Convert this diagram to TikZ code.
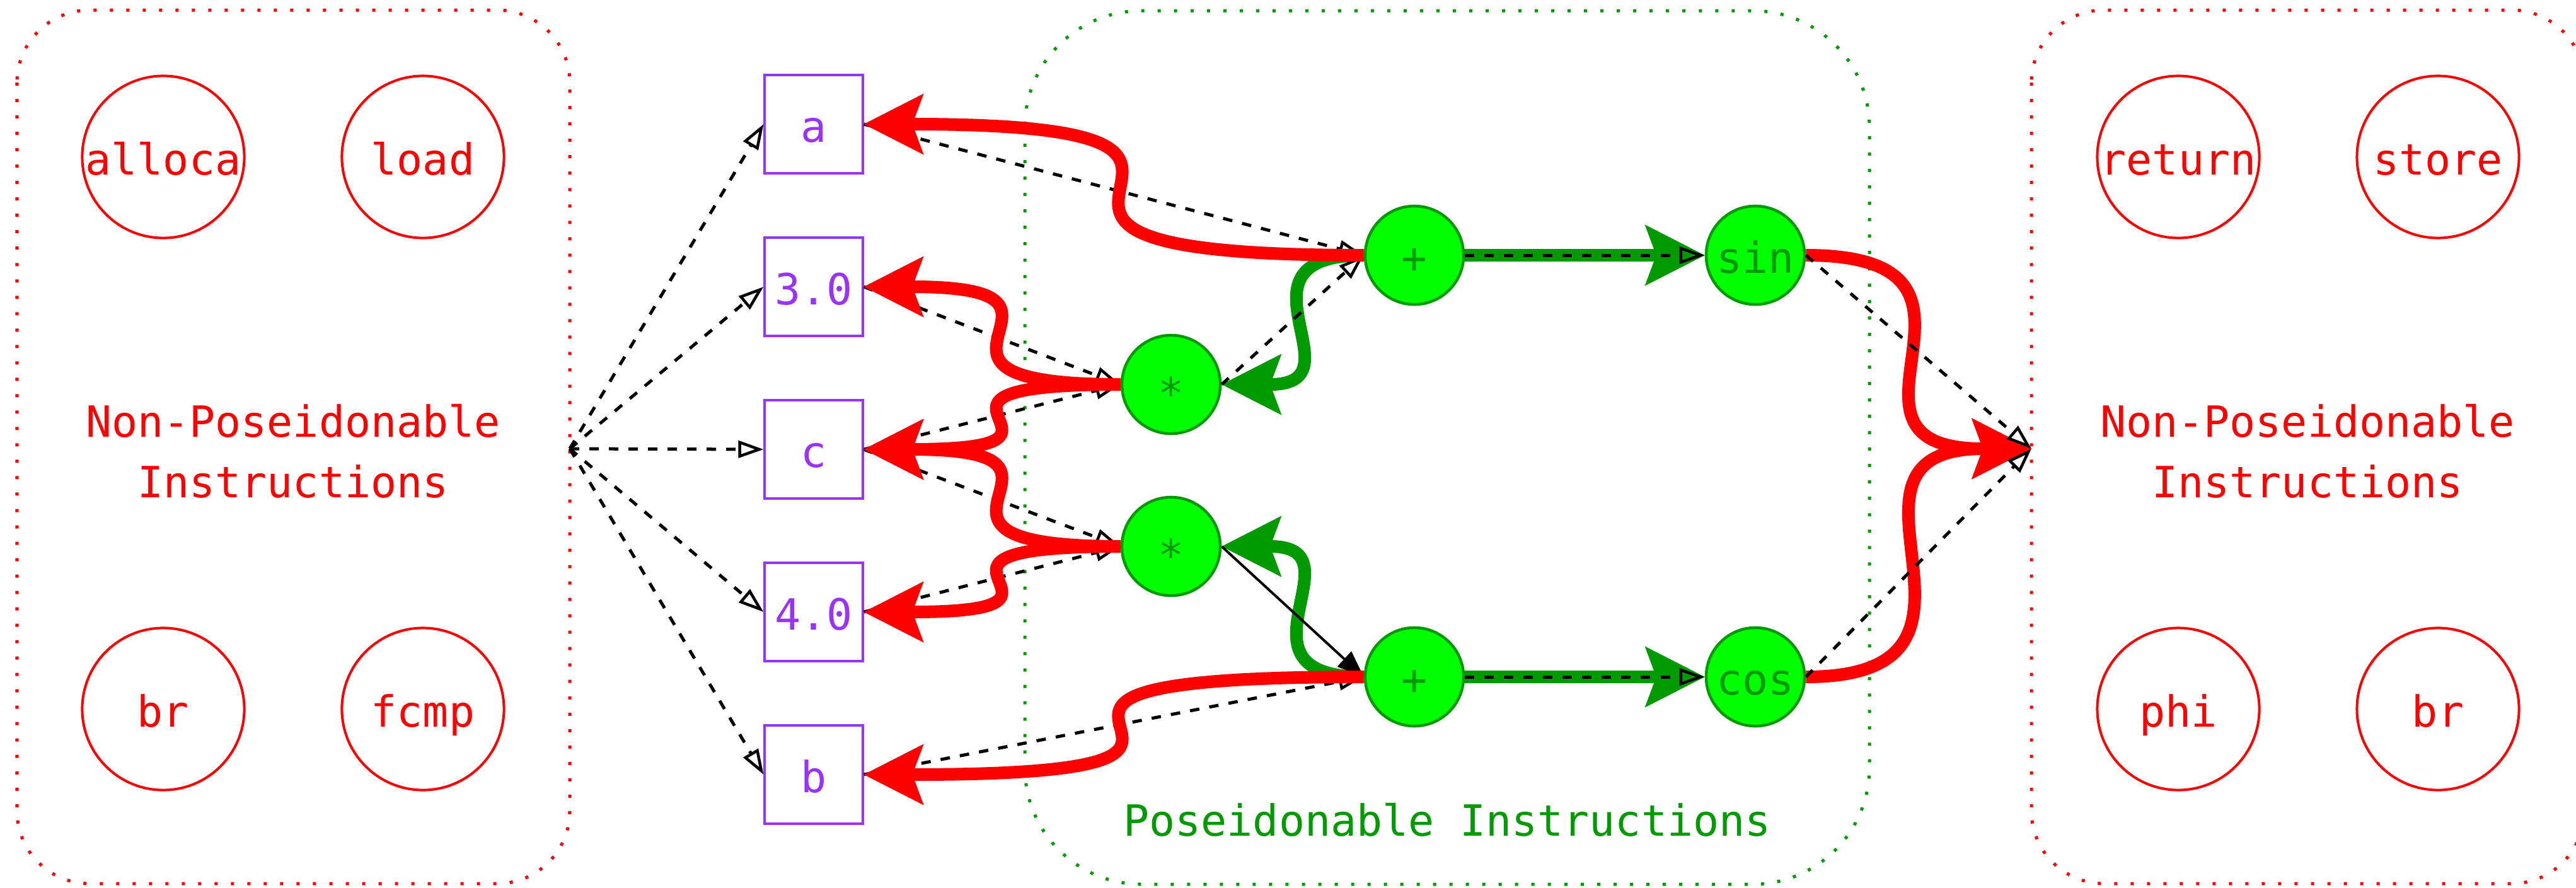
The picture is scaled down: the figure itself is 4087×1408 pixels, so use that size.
\documentclass[tikz,border=0pt]{standalone}
\usepackage{fontspec}
\usepackage{tikz}
\usetikzlibrary{arrows.meta}
\newfontfamily\irmono{DejaVu Sans Mono}
\definecolor{poseigreen}{RGB}{0,153,0}
\definecolor{poseifill}{RGB}{0,255,0}
\definecolor{valpurple}{RGB}{153,51,255}
\newcommand{\irtext}{\irmono\fontsize{19.4pt}{27.3pt}\selectfont}
\newcommand{\irmul}{\raisebox{-0.1cm}{*}}
\tikzset{
  cluster/.style={line width=0.05cm, dash pattern=on 0.05cm off 0.21cm},
  inode/.style={circle, draw=red, line width=0.04cm, minimum size=2.57cm, inner sep=0pt,
      text=red, font=\irtext, text height=0.56cm, text depth=0pt},
  vbox/.style={rectangle, draw=valpurple, line width=0.04cm, minimum size=1.55cm, inner sep=0pt,
      text=valpurple, font=\irtext, text height=0.56cm, text depth=0pt},
  pnode/.style={circle, draw=poseigreen, fill=poseifill, line width=0.045cm, minimum size=1.56cm,
      inner sep=0pt, text=poseigreen, font=\irtext, text height=0.56cm, text depth=0pt},
  clab/.style={font=\irtext, align=center, inner sep=0pt},
  dep/.style={black, line width=0.05cm, dash pattern=on 0.15cm off 0.16cm,
      -{Triangle[open, length=0.4cm, width=0.27cm, line width'=0.045cm]}},
  flow/.style={black, line width=0.04cm, -{Triangle[length=0.42cm, width=0.33cm, line width'=0.01cm]}},
  rarr/.style={red, line width=0.2cm,
      -{Stealth[length=0.95cm, width=0.97cm, inset=0.18cm, line width'=0.01cm]}},
  garr/.style={poseigreen, line width=0.2cm,
      -{Stealth[length=0.95cm, width=0.97cm, inset=0.18cm, line width'=0.01cm]}},
  % horizontal S bend, vertical in the middle
  scurve/.style={to path={.. controls (\tikztostart -| \tikztotarget) and (\tikztotarget -| \tikztostart) .. (\tikztotarget) \tikztonodes}},
}

\begin{document}
\begin{tikzpicture}[x=0.01cm, y=-0.01cm]
  \useasboundingbox (0,0) rectangle (4087,1408);

  % clusters
  \draw[cluster, red, rounded corners=1.15cm] (27,16) rectangle (904,1402);
  \draw[cluster, poseigreen, rounded corners=1.85cm] (1626,17) rectangle (2966,1403);
  \draw[cluster, red, rounded corners=1.15cm] (3223,16) rectangle (4100,1402);

  % instructions outside the region
  \node[inode] (alloca) at (259,249) {alloca};
  \node[inode] (load) at (671,249) {load};
  \node[inode] (lbr) at (259,1125) {br};
  \node[inode] (fcmp) at (671,1125) {fcmp};
  \node[clab, text=red] (lcap) at (465,716) {Non-Poseidonable\\Instructions};
  \coordinate (src) at (904,712);

  \node[inode] (ret) at (3456,249) {return};
  \node[inode] (store) at (3868,249) {store};
  \node[inode] (phi) at (3456,1125) {phi};
  \node[inode] (rbr) at (3868,1125) {br};
  \node[clab, text=red] (rcap) at (3661,716) {Non-Poseidonable\\Instructions};
  \coordinate (sink) at (3223,712);

  % operands
  \node[vbox] (va) at (1291,197) {a};
  \node[vbox] (v30) at (1291,455) {3.0};
  \node[vbox] (vc) at (1291,713) {c};
  \node[vbox] (v40) at (1291,971) {4.0};
  \node[vbox] (vb) at (1291,1229) {b};

  % poseidonable ops
  \node[pnode] (mul1) at (1858,610) {\irmul};
  \node[pnode] (mul2) at (1858,867) {\irmul};
  \node[pnode] (plus1) at (2244,405) {+};
  \node[pnode] (plus2) at (2244,1074) {+};
  \node[pnode] (sin) at (2785,405) {sin};
  \node[pnode] (cos) at (2785,1074) {cos};
  \node[clab, text=poseigreen, anchor=base] (pcap) at (2296,1326) {Poseidonable Instructions};

  % green flow
  \draw[garr] (plus1.east) -- (sin.west);
  \draw[garr] (plus2.east) -- (cos.west);
  \draw[garr] (plus1.west) to[scurve] (mul1.east);
  \draw[garr] (plus2.west) to[scurve] (mul2.east);

  % data dependences
  \draw[dep] (src) -- (va.west);
  \draw[dep] (src) -- (v30.west);
  \draw[dep] (src) -- (vc.west);
  \draw[dep] (src) -- (v40.west);
  \draw[dep] (src) -- (vb.west);
  \draw[dep] (va.east) -- (plus1.west);
  \draw[dep] (v30.east) -- (mul1.west);
  \draw[dep] (vc.east) -- (mul1.west);
  \draw[dep] (vc.east) -- (mul2.west);
  \draw[dep] (v40.east) -- (mul2.west);
  \draw[dep] (vb.east) -- (plus2.west);
  \draw[dep] (mul1.east) -- (plus1.west);
  \draw[flow] (mul2.east) -- (plus2.west);

  % red back edges
  \draw[rarr] (plus1.west) to[scurve] (va.east);
  \draw[rarr] (mul1.west) to[scurve] (v30.east);
  \draw[rarr] (mul1.west) to[scurve] (vc.east);
  \draw[rarr] (mul2.west) to[scurve] (vc.east);
  \draw[rarr] (mul2.west) to[scurve] (v40.east);
  \draw[rarr] (plus2.west) to[scurve] (vb.east);
  \draw[rarr] (sin.east) to[scurve] (sink);
  \draw[rarr] (cos.east) to[scurve] (sink);

  \draw[dep] (plus1.east) -- (sin.west);
  \draw[dep] (plus2.east) -- (cos.west);
  \draw[dep] (sin.east) -- (sink);
  \draw[dep] (cos.east) -- (sink);
\end{tikzpicture}
\end{document}
